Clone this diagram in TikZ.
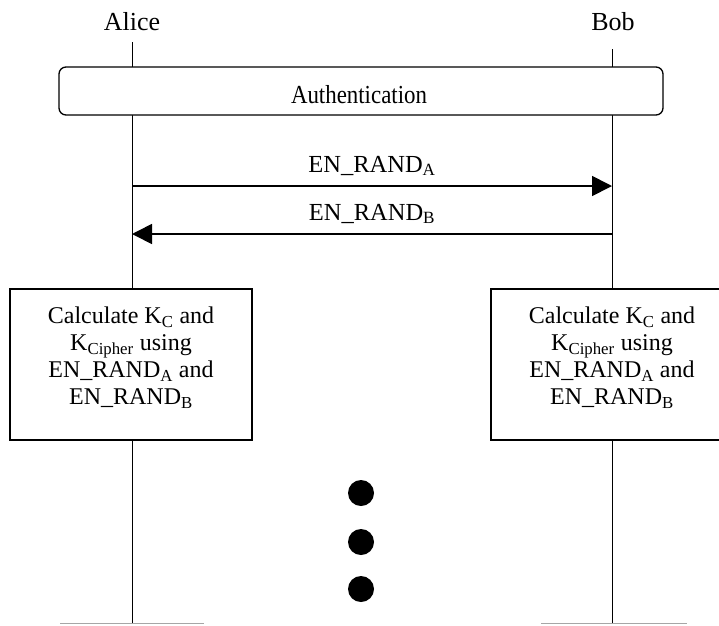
\documentclass[tikz,border=0pt]{standalone}
\usepackage{fontspec}
\setmainfont{Liberation Serif}
\newfontfamily\narrowserif[FakeStretch=0.88]{Liberation Serif}
\usetikzlibrary{arrows.meta}

\begin{document}
\begin{tikzpicture}[x=1pt,y=-1pt,
  txt/.style={font=\fontsize{24}{27}\selectfont,inner sep=0pt},
  actor/.style={font=\fontsize{26}{30}\selectfont,inner sep=0pt,anchor=base},
  life/.style={line width=1pt},
  msg/.style={line width=1.7pt,-{Triangle[length=20pt,width=20pt]}},
  box/.style={draw,line width=1.3pt,fill=white},
  dot/.style={circle,fill=black,minimum size=26pt,inner sep=0pt},
  foot/.style={line width=1pt,black!35}]

\useasboundingbox (0,0) rectangle (719,625);
\clip (0,0) rectangle (719,625);

\node[actor] (alice) at (132,30) {Alice};
\node[actor] (bob) at (613,30) {Bob};

\coordinate (aliceTop) at (132,42);
\coordinate (bobTop) at (612,49);
\coordinate (aliceEnd) at (132,623.5);
\coordinate (bobEnd) at (612,623.5);

\draw[life] (aliceTop) -- (aliceEnd);
\draw[life] (bobTop) -- (bobEnd);

\node[box,rounded corners=7pt,minimum width=604pt,minimum height=48pt] (auth) at (361,91) {};
\node[inner sep=0pt,anchor=base,font=\narrowserif\fontsize{26}{30}\selectfont] (authtext) at (359,103) {Authentication};

\coordinate (a1) at (132,186);
\coordinate (b1) at (612,186);
\coordinate (a2) at (132,234);
\coordinate (b2) at (612,234);

\draw[msg] (a1) -- (b1) node[txt,midway,anchor=base,yshift=14pt,font=\fontsize{24.5}{27}\selectfont] (randA) {EN\_RAND\textsubscript{A}};
\draw[msg] (b2) -- (a2) node[txt,midway,anchor=base,yshift=14pt,font=\fontsize{24.5}{27}\selectfont] (randB) {EN\_RAND\textsubscript{B}};

\node[box,minimum width=242pt,minimum height=151pt] (calcA) at (131,364.5) {};
\node[txt,align=center] (calcAtext) at (131,358) {Calculate K\textsubscript{C} and\\K\textsubscript{Cipher} using\\EN\_RAND\textsubscript{A} and\\EN\_RAND\textsubscript{B}};

\node[box,minimum width=242pt,minimum height=151pt] (calcB) at (612,364.5) {};
\node[txt,align=center] (calcBtext) at (612,358) {Calculate K\textsubscript{C} and\\K\textsubscript{Cipher} using\\EN\_RAND\textsubscript{A} and\\EN\_RAND\textsubscript{B}};

\foreach \y [count=\i] in {493,542,589}
  \node[dot] (dot\i) at (361,\y) {};

\coordinate (aliceFootL) at (60,623.5);
\coordinate (aliceFootR) at (204,623.5);
\coordinate (bobFootL) at (541,623.5);
\coordinate (bobFootR) at (687,623.5);
\draw[foot] (aliceFootL) -- (aliceFootR);
\draw[foot] (bobFootL) -- (bobFootR);

\end{tikzpicture}
\end{document}
